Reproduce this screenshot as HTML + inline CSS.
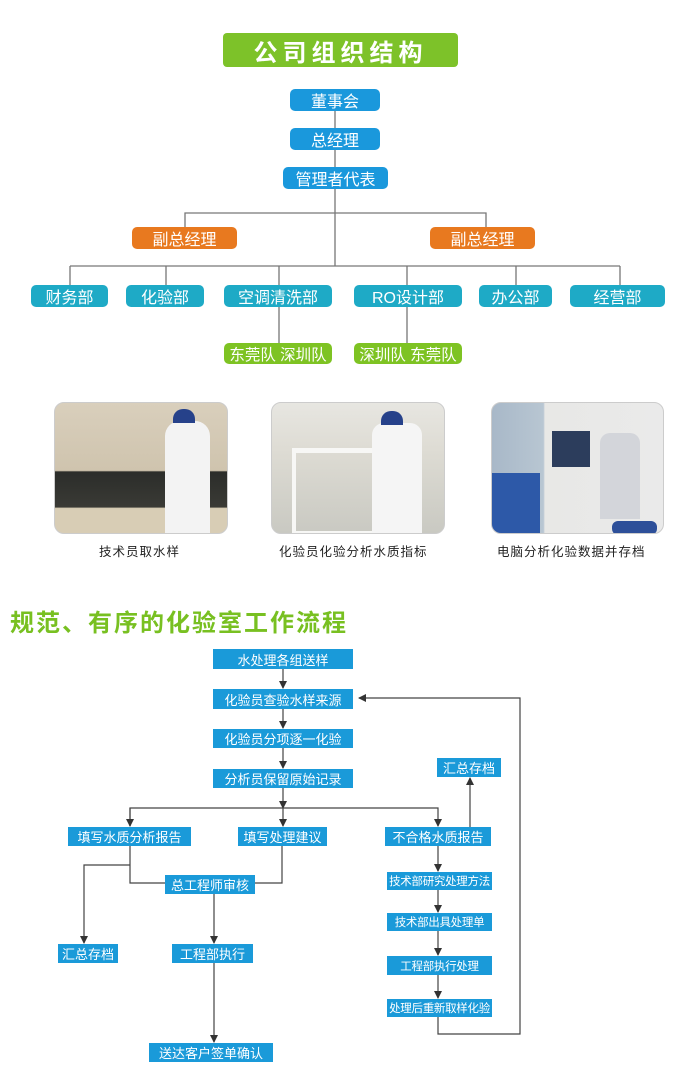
<!DOCTYPE html>
<html><head><meta charset="utf-8"><style>
*{margin:0;padding:0;box-sizing:border-box}
body{width:685px;height:1073px;background:#fff;position:relative;overflow:hidden;font-family:"Liberation Sans","Noto Sans CJK SC",sans-serif}
.b{position:absolute;color:#fff;display:flex;align-items:center;justify-content:center;white-space:nowrap}
.o{background:#1a98dc;border-radius:5px;font-size:16px}
.or{background:#e8791f;border-radius:5px;font-size:16px}
.d{background:#1eaac6;border-radius:5px;font-size:16px}
.g{background:#7ec323;border-radius:5px;font-size:15.5px}
.f{background:#1a9ad9;font-size:13px}
.s{font-size:11.5px;letter-spacing:-0.3px}
.cap{position:absolute;font-size:12.5px;color:#222;letter-spacing:1px;white-space:nowrap}
.ph{position:absolute;border-radius:10px;overflow:hidden;border:1px solid #ccc}
svg{position:absolute;left:0;top:0}
</style></head><body>
<svg width="685" height="1073">
<defs><marker id="a" markerWidth="8" markerHeight="8" refX="7" refY="4" orient="auto" markerUnits="userSpaceOnUse"><path d="M0,0 L8,4 L0,8z" fill="#333"/></marker></defs>
<g stroke="#777" stroke-width="1.3" fill="none">
<line x1="335" y1="111" x2="335" y2="266"/>
<polyline points="185,227 185,213 486,213 486,227"/>
<line x1="70" y1="266" x2="620" y2="266"/>
<line x1="70" y1="266" x2="70" y2="285"/><line x1="166" y1="266" x2="166" y2="285"/>
<line x1="279" y1="266" x2="279" y2="343"/><line x1="407" y1="266" x2="407" y2="343"/>
<line x1="516" y1="266" x2="516" y2="285"/><line x1="620" y1="266" x2="620" y2="285"/>
</g>
<g stroke="#444" stroke-width="1.2" fill="none">
<line x1="283" y1="669" x2="283" y2="688" marker-end="url(#a)"/>
<line x1="283" y1="709" x2="283" y2="728" marker-end="url(#a)"/>
<line x1="283" y1="748" x2="283" y2="768" marker-end="url(#a)"/>
<line x1="283" y1="788" x2="283" y2="808" marker-end="url(#a)"/>
<polyline points="130,826 130,808 438,808 438,826" marker-end="url(#a)"/>
<line x1="130" y1="808" x2="130" y2="826" marker-end="url(#a)"/>
<line x1="283" y1="808" x2="283" y2="826" marker-end="url(#a)"/>
<line x1="470" y1="827" x2="470" y2="778" marker-end="url(#a)"/>
<polyline points="130,846 130,883 165,883"/>
<polyline points="282,846 282,883 255,883"/>
<polyline points="130,865 84,865 84,943" marker-end="url(#a)"/>
<line x1="214" y1="894" x2="214" y2="943" marker-end="url(#a)"/>
<line x1="214" y1="963" x2="214" y2="1042" marker-end="url(#a)"/>
<line x1="438" y1="846" x2="438" y2="871" marker-end="url(#a)"/>
<line x1="438" y1="890" x2="438" y2="912" marker-end="url(#a)"/>
<line x1="438" y1="931" x2="438" y2="955" marker-end="url(#a)"/>
<line x1="438" y1="975" x2="438" y2="998" marker-end="url(#a)"/>
<polyline points="438,1017 438,1034 520,1034 520,698 359,698" marker-end="url(#a)"/>
</g>
</svg>
<div class="b" style="left:223px;top:33px;width:235px;height:34px;background:#7dc229;border-radius:4px;font-size:24px;font-weight:bold;letter-spacing:5px">公司组织结构</div>
<div class="b o" style="left:290px;top:89px;width:90px;height:22px">董事会</div>
<div class="b o" style="left:290px;top:128px;width:90px;height:22px">总经理</div>
<div class="b o" style="left:283px;top:167px;width:105px;height:22px">管理者代表</div>
<div class="b or" style="left:132px;top:227px;width:105px;height:22px">副总经理</div>
<div class="b or" style="left:430px;top:227px;width:105px;height:22px">副总经理</div>
<div class="b d" style="left:31px;top:285px;width:77px;height:22px">财务部</div>
<div class="b d" style="left:126px;top:285px;width:78px;height:22px">化验部</div>
<div class="b d" style="left:224px;top:285px;width:108px;height:22px">空调清洗部</div>
<div class="b d" style="left:354px;top:285px;width:108px;height:22px">RO设计部</div>
<div class="b d" style="left:479px;top:285px;width:73px;height:22px">办公部</div>
<div class="b d" style="left:570px;top:285px;width:95px;height:22px">经营部</div>
<div class="b g" style="left:224px;top:343px;width:108px;height:21px">东莞队 深圳队</div>
<div class="b g" style="left:354px;top:343px;width:108px;height:21px">深圳队 东莞队</div>

<div class="ph" style="left:54px;top:402px;width:174px;height:132px;background:linear-gradient(180deg,#d9cfbc 0%,#cfc4ae 52%,#2b2d2a 53%,#3a3a35 80%,#d8cdb5 81%)">
<div style="position:absolute;left:110px;top:18px;width:45px;height:114px;background:#f3f3f3;border-radius:15px 15px 0 0"></div>
<div style="position:absolute;left:118px;top:6px;width:22px;height:14px;background:#26418a;border-radius:10px 10px 0 0"></div></div>
<div class="ph" style="left:271px;top:402px;width:174px;height:132px;background:linear-gradient(180deg,#e7e6e1 0%,#dedcd4 35%,#c9c9c2 100%)">
<div style="position:absolute;left:20px;top:45px;width:110px;height:87px;border:4px solid #f7f7f5;border-top-width:5px"></div>
<div style="position:absolute;left:100px;top:20px;width:50px;height:112px;background:#f5f5f5;border-radius:12px 12px 0 0"></div>
<div style="position:absolute;left:109px;top:8px;width:22px;height:14px;background:#26418a;border-radius:10px 10px 0 0"></div></div>
<div class="ph" style="left:491px;top:402px;width:173px;height:132px;background:linear-gradient(90deg,#a8b8c8 0%,#b8c6d2 30%,#e8e8e6 31%,#eaeaea 100%)">
<div style="position:absolute;left:0;top:70px;width:48px;height:62px;background:#2d59a8"></div>
<div style="position:absolute;left:60px;top:28px;width:38px;height:36px;background:#2c3d5c"></div>
<div style="position:absolute;left:108px;top:30px;width:40px;height:86px;background:#d3d5da;border-radius:10px 10px 0 0"></div>
<div style="position:absolute;left:120px;top:118px;width:45px;height:14px;background:#2d4f99;border-radius:6px"></div></div>
<div class="cap" style="left:99px;top:541px">技术员取水样</div>
<div class="cap" style="left:279px;top:541px">化验员化验分析水质指标</div>
<div class="cap" style="left:497px;top:541px">电脑分析化验数据并存档</div>
<div style="position:absolute;left:10px;top:603px;font-size:24px;font-weight:bold;color:#78c021;white-space:nowrap;letter-spacing:2px">规范、有序的化验室工作流程</div>

<div class="b f" style="left:213px;top:649px;width:140px;height:20px">水处理各组送样</div>
<div class="b f" style="left:213px;top:689px;width:140px;height:20px">化验员查验水样来源</div>
<div class="b f" style="left:213px;top:729px;width:140px;height:19px">化验员分项逐一化验</div>
<div class="b f" style="left:213px;top:769px;width:140px;height:19px">分析员保留原始记录</div>
<div class="b f" style="left:437px;top:758px;width:64px;height:19px">汇总存档</div>
<div class="b f" style="left:68px;top:827px;width:123px;height:19px">填写水质分析报告</div>
<div class="b f" style="left:238px;top:827px;width:89px;height:19px">填写处理建议</div>
<div class="b f" style="left:385px;top:827px;width:106px;height:19px">不合格水质报告</div>
<div class="b f" style="left:165px;top:875px;width:90px;height:19px">总工程师审核</div>
<div class="b f s" style="left:387px;top:872px;width:105px;height:18px">技术部研究处理方法</div>
<div class="b f s" style="left:387px;top:913px;width:105px;height:18px">技术部出具处理单</div>
<div class="b f" style="left:58px;top:944px;width:60px;height:19px">汇总存档</div>
<div class="b f" style="left:172px;top:944px;width:81px;height:19px">工程部执行</div>
<div class="b f s" style="left:387px;top:956px;width:105px;height:19px">工程部执行处理</div>
<div class="b f s" style="left:387px;top:999px;width:105px;height:18px">处理后重新取样化验</div>
<div class="b f" style="left:149px;top:1043px;width:124px;height:19px">送达客户签单确认</div>
</body></html>
